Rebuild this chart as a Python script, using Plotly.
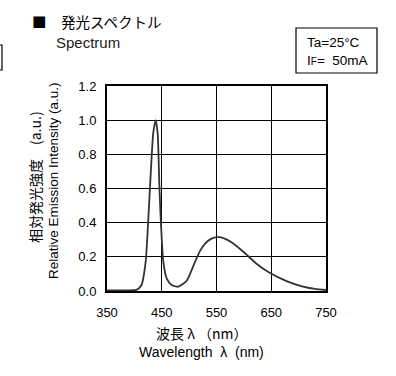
import plotly.graph_objects as go

wavelength = [350, 380, 400, 405, 413, 420.6, 425.5, 430.4, 434.6, 439, 442.6, 445.6, 448.6, 452.9, 459, 468, 480, 495.5, 510.7, 520, 530, 540, 552, 565, 580, 599, 623, 647, 678, 708, 730, 750]
intensity = [0.004, 0.004, 0.005, 0.008, 0.035, 0.17, 0.425, 0.72, 0.93, 1.0, 0.92, 0.62, 0.39, 0.17, 0.074, 0.035, 0.025, 0.06, 0.17, 0.235, 0.28, 0.305, 0.315, 0.307, 0.28, 0.23, 0.16, 0.107, 0.058, 0.025, 0.012, 0.006]
x_ticks = [350, 450, 550, 650, 750]
y_ticks = [0.0, 0.2, 0.4, 0.6, 0.8, 1.0, 1.2]

W, H = 396, 376
L, R, T, B = 107, 326, 86, 291

def px(x):
    return (x - L) / (R - L)

def py(y):
    return (B - y) / (B - T)

fig = go.Figure()
fig.add_trace(go.Scatter(x=wavelength, y=intensity, mode="lines",
                         line=dict(color="#333333", width=1.8, shape="spline", smoothing=0.6),
                         showlegend=False, hoverinfo="skip"))

axis_common = dict(showgrid=True, gridcolor="black", gridwidth=1, showline=True,
                   linecolor="black", linewidth=2, mirror=True, ticks="", zeroline=False,
                   tickfont=dict(family="Liberation Sans, Arial", size=13, color="black"))
fig.update_xaxes(range=[350, 750], tickvals=x_ticks, ticktext=[str(v) for v in x_ticks],
                 ticklabelstandoff=8, **axis_common)
fig.update_yaxes(range=[0, 1.2], tickvals=y_ticks, ticktext=[f"{v:.1f}" for v in y_ticks],
                 ticklabelstandoff=6, **axis_common)

jp = "Noto Sans CJK JP, Liberation Sans"
en = "Liberation Sans, Arial"
ann = []
def add(x, y, text, font, size, anchor="left", angle=0, color="black"):
    ann.append(dict(x=px(x), y=py(y), xref="paper", yref="paper", xanchor=anchor, yanchor="middle",
                    text=text, showarrow=False, textangle=angle,
                    font=dict(family=font, size=size, color=color)))

add(30, 22, "■　発光スペクトル", jp, 14.5)
add(54, 42, "Spectrum", en, 15, color="#222")
add(305, 42, "Ta=25°C", en, 13.5)
add(305, 60, "I<span style='font-size:10px'>F</span>=  50mA", en, 13.5)
add(202, 333, "波長 λ （nm）", jp, 14, anchor="center")
add(201, 352, "Wavelength  λ  (nm)", en, 14, anchor="center")
add(35, 177, "相対発光強度　(a.u.)", jp, 14, anchor="center", angle=-90)
add(53, 181, "Relative Emission Intensity (a.u.)", en, 13.5, anchor="center", angle=-90)

shapes = [
    dict(type="rect", xref="paper", yref="paper", x0=px(296), x1=px(377), y0=py(73), y1=py(28),
         line=dict(color="black", width=1.2), fillcolor="rgba(0,0,0,0)"),
    dict(type="rect", xref="paper", yref="paper", x0=px(-10), x1=px(2), y0=py(70), y1=py(45),
         line=dict(color="black", width=1.2), fillcolor="rgba(0,0,0,0)"),
]

fig.update_layout(width=W, height=H, margin=dict(l=L, r=W - R, t=T, b=H - B),
                  paper_bgcolor="white", plot_bgcolor="white", annotations=ann, shapes=shapes)
fig.write_html("out.html", config={"displayModeBar": False},
               post_script="document.body.style.margin='0';document.body.style.overflow='hidden';")
